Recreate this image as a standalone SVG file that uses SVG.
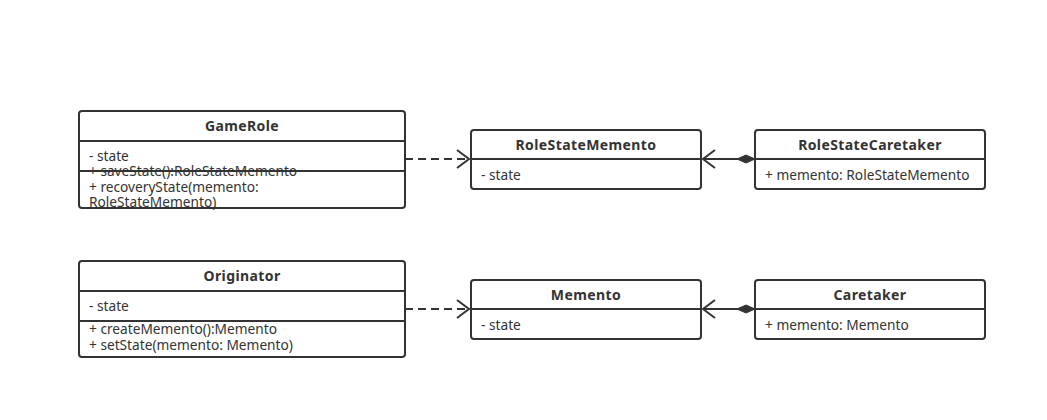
<svg xmlns="http://www.w3.org/2000/svg" width="1047" height="420" viewBox="0 0 1047 420">
<style>
.box{fill:#fff;stroke:#333;stroke-width:2}
.ln{stroke:#333;stroke-width:2;fill:none}
.t{font-family:"Noto Sans","Open Sans",sans-serif;font-size:13.7px;fill:#333}
.h{font-family:"Noto Sans","Open Sans",sans-serif;font-size:14px;font-weight:bold;letter-spacing:0.4px;fill:#333;text-anchor:middle}
.dash{stroke:#333;stroke-width:2;fill:none;stroke-dasharray:8 5}
</style>
<defs>
<marker id="open" viewBox="0 0 14 20" refX="13" refY="10" markerWidth="14" markerHeight="20" markerUnits="userSpaceOnUse" orient="auto">
<path d="M1 1 L13 10 L1 19" fill="none" stroke="#333" stroke-width="2"/>
</marker>
<marker id="diamond" viewBox="0 0 20 10" refX="1" refY="5" markerWidth="20" markerHeight="10" markerUnits="userSpaceOnUse" orient="auto">
<path d="M1 5 L10 1 L19 5 L10 9 Z" fill="#333" stroke="#333" stroke-width="1"/>
</marker>
</defs>
<rect width="1047" height="420" fill="#fff"/>
<g id="connectors">
<line class="dash" x1="405" y1="159" x2="469" y2="159" marker-end="url(#open)"/>
<line class="ln" x1="755" y1="159" x2="703" y2="159" marker-start="url(#diamond)" marker-end="url(#open)"/>
<line class="dash" x1="405" y1="309" x2="469" y2="309" marker-end="url(#open)"/>
<line class="ln" x1="755" y1="309" x2="703" y2="309" marker-start="url(#diamond)" marker-end="url(#open)"/>
</g>
<g id="GameRole">
<rect class="box" x="79" y="111" width="326" height="97" rx="3"/>
<line class="ln" x1="79" y1="141" x2="405" y2="141"/>
<line class="ln" x1="79" y1="171" x2="405" y2="171"/>
<text class="h" x="242" y="131">GameRole</text>
<text class="t" x="89" y="161">- state</text>
<text class="t" x="89" y="176">+ saveState():RoleStateMemento</text>
<text class="t" x="89" y="192">+ recoveryState(memento:</text>
<text class="t" x="89" y="207">RoleStateMemento)</text>
</g>
<g id="RoleStateMemento">
<rect class="box" x="471" y="130" width="230" height="59" rx="3"/>
<line class="ln" x1="471" y1="159" x2="701" y2="159"/>
<text class="h" x="586" y="150">RoleStateMemento</text>
<text class="t" x="481" y="180">- state</text>
</g>
<g id="RoleStateCaretaker">
<rect class="box" x="755" y="130" width="230" height="59" rx="3"/>
<line class="ln" x1="755" y1="159" x2="985" y2="159"/>
<text class="h" x="870" y="150">RoleStateCaretaker</text>
<text class="t" x="765" y="180">+ memento: RoleStateMemento</text>
</g>
<g id="Originator">
<rect class="box" x="79" y="261" width="326" height="96" rx="3"/>
<line class="ln" x1="79" y1="291" x2="405" y2="291"/>
<line class="ln" x1="79" y1="321" x2="405" y2="321"/>
<text class="h" x="242" y="281">Originator</text>
<text class="t" x="89" y="311">- state</text>
<text class="t" x="89" y="334">+ createMemento():Memento</text>
<text class="t" x="89" y="350">+ setState(memento: Memento)</text>
</g>
<g id="Memento">
<rect class="box" x="471" y="280" width="230" height="59" rx="3"/>
<line class="ln" x1="471" y1="309" x2="701" y2="309"/>
<text class="h" x="586" y="300">Memento</text>
<text class="t" x="481" y="330">- state</text>
</g>
<g id="Caretaker">
<rect class="box" x="755" y="280" width="230" height="59" rx="3"/>
<line class="ln" x1="755" y1="309" x2="985" y2="309"/>
<text class="h" x="870" y="300">Caretaker</text>
<text class="t" x="765" y="330">+ memento: Memento</text>
</g>
</svg>
